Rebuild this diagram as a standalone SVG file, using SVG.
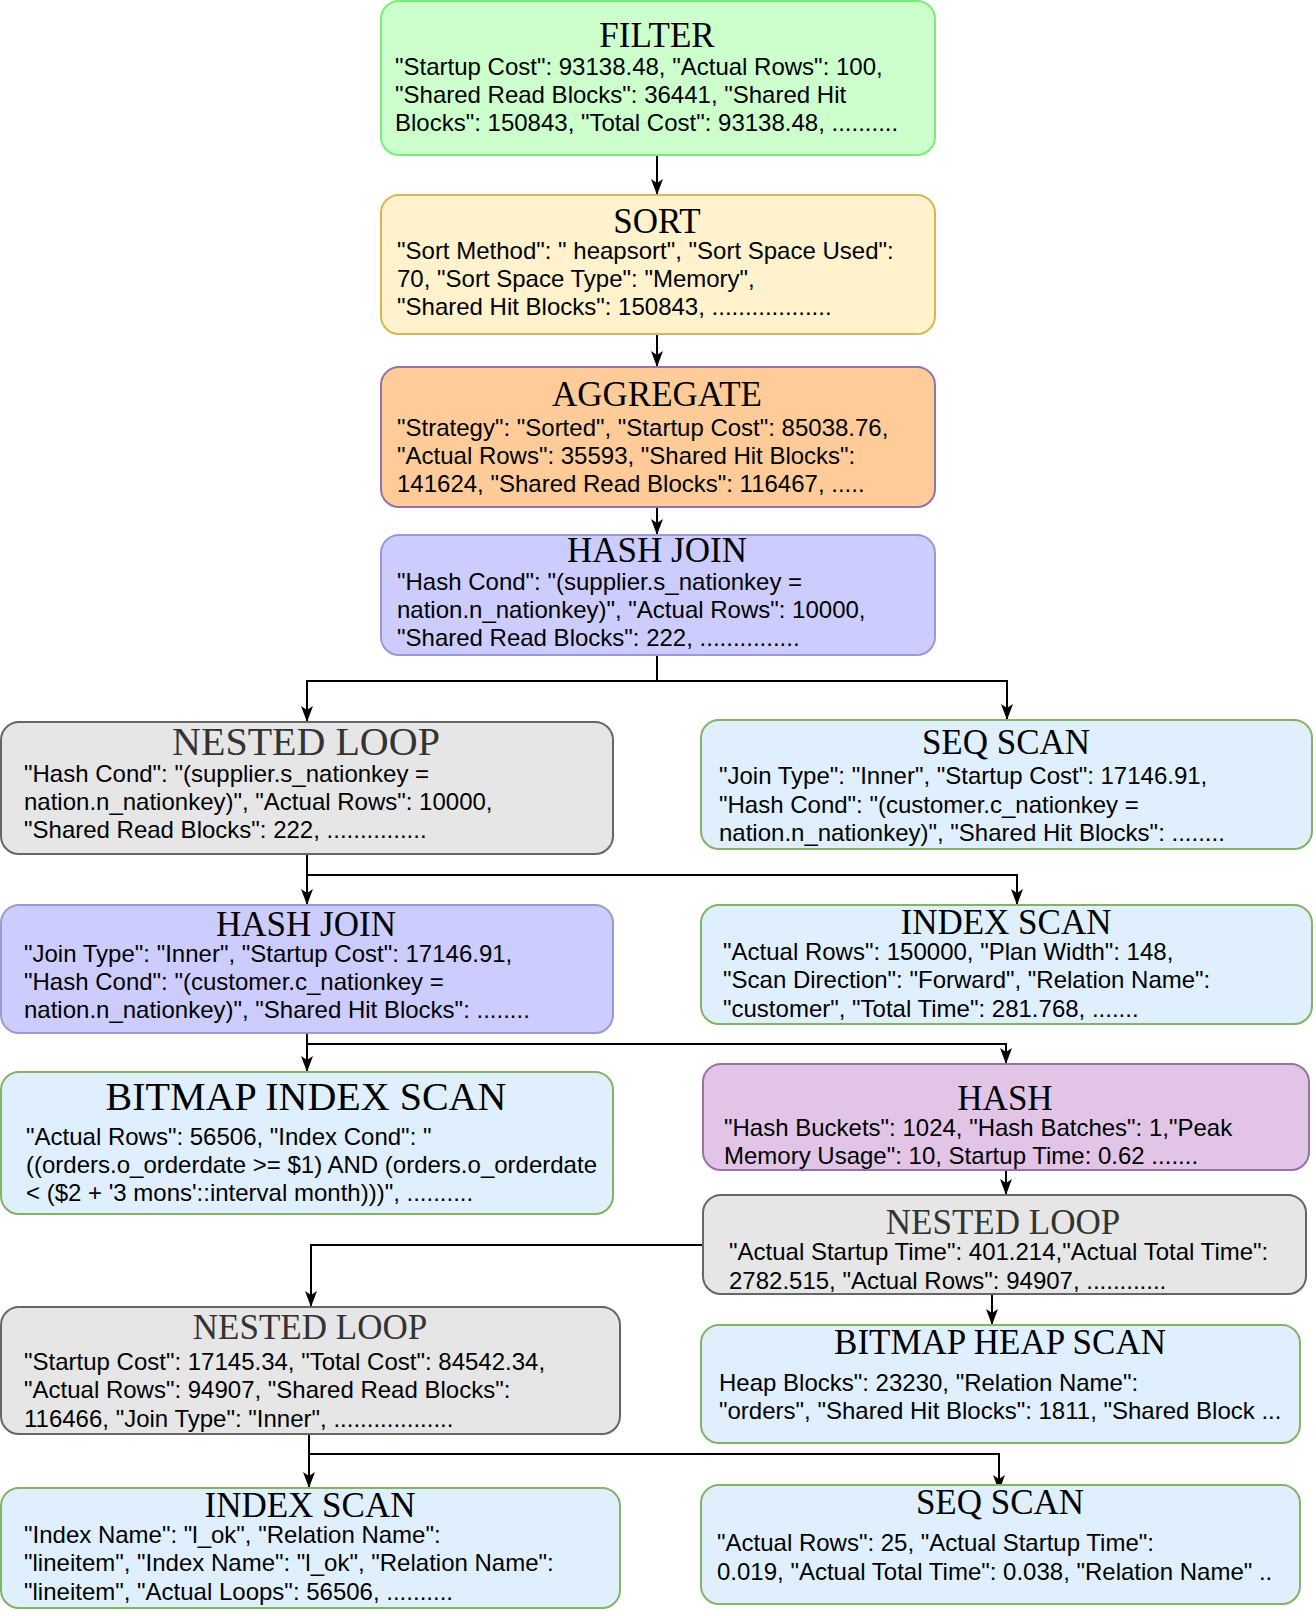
<svg xmlns="http://www.w3.org/2000/svg" width="1316" height="1616" viewBox="0 0 1316 1616">
<style>
.box{stroke-width:2}
.t{font-family:"Liberation Serif","Times New Roman",serif;font-size:35px;fill:#000;text-anchor:middle}
.tb{font-size:40px}
.tg{fill:#333}
.b{font-family:"Liberation Sans",Arial,Helvetica,sans-serif;font-size:24px;fill:#000}
.green{fill:#ccffcc;stroke:#77ee77}
.yellow{fill:#fff2cc;stroke:#d6b656}
.orange{fill:#ffcc99;stroke:#9673a6}
.blue{fill:#ccccff;stroke:#9a9ad0}
.gray{fill:#e6e6e6;stroke:#666666}
.scan{fill:#dfeffd;stroke:#82b366}
.pink{fill:#e1c4e6;stroke:#9673a6}
.c{fill:none;stroke:#000;stroke-width:2}
</style>
<defs>
<marker id="arr" viewBox="0 0 16 12" markerWidth="16" markerHeight="12" refX="16" refY="6" orient="auto" markerUnits="userSpaceOnUse">
<path d="M0,0 L16,6 L0,12 L4,6 z" fill="#000"/>
</marker>
</defs>
<g id="connectors">
<path class="c" d="M657,155 V195" marker-end="url(#arr)"/>
<path class="c" d="M657,334 V367" marker-end="url(#arr)"/>
<path class="c" d="M657,507 V535" marker-end="url(#arr)"/>
<path class="c" d="M657,655 V681 H307 V722" marker-end="url(#arr)"/>
<path class="c" d="M657,681 H1007 V720" marker-end="url(#arr)"/>
<path class="c" d="M307,854 V905" marker-end="url(#arr)"/>
<path class="c" d="M307,875 H1017 V905" marker-end="url(#arr)"/>
<path class="c" d="M307,1033 V1072" marker-end="url(#arr)"/>
<path class="c" d="M307,1044 H1006 V1064" marker-end="url(#arr)"/>
<path class="c" d="M1006,1170 V1195" marker-end="url(#arr)"/>
<path class="c" d="M703,1245 H311 V1307" marker-end="url(#arr)"/>
<path class="c" d="M992,1294 V1325" marker-end="url(#arr)"/>
<path class="c" d="M309,1434 V1488" marker-end="url(#arr)"/>
<path class="c" d="M309,1454 H999 V1491" marker-end="url(#arr)"/>
</g>
<g id="filter">
<rect class="box green" x="381" y="1" width="554" height="154" rx="18"/>
<text class="t" x="657" y="47">FILTER</text>
<text class="b" x="395" y="75">"Startup Cost": 93138.48, "Actual Rows": 100,</text>
<text class="b" x="395" y="103">"Shared Read Blocks": 36441, "Shared Hit</text>
<text class="b" x="395" y="131">Blocks": 150843, "Total Cost": 93138.48, ..........</text>
</g>
<g id="sort">
<rect class="box yellow" x="381" y="195" width="554" height="139" rx="18"/>
<text class="t" x="657" y="233">SORT</text>
<text class="b" x="397" y="259">"Sort Method": " heapsort", "Sort Space Used":</text>
<text class="b" x="397" y="287">70, "Sort Space Type": "Memory",</text>
<text class="b" x="397" y="315">"Shared Hit Blocks": 150843, ..................</text>
</g>
<g id="aggregate">
<rect class="box orange" x="381" y="367" width="554" height="140" rx="18"/>
<text class="t" x="657" y="406">AGGREGATE</text>
<text class="b" x="397" y="436">"Strategy": "Sorted", "Startup Cost": 85038.76,</text>
<text class="b" x="397" y="464">"Actual Rows": 35593, "Shared Hit Blocks":</text>
<text class="b" x="397" y="492">141624, "Shared Read Blocks": 116467, .....</text>
</g>
<g id="hashjoin1">
<rect class="box blue" x="381" y="535" width="554" height="120" rx="18"/>
<text class="t" x="657" y="562">HASH JOIN</text>
<text class="b" x="397" y="590">"Hash Cond": "(supplier.s_nationkey =</text>
<text class="b" x="397" y="618">nation.n_nationkey)", "Actual Rows": 10000,</text>
<text class="b" x="397" y="646">"Shared Read Blocks": 222, ...............</text>
</g>
<g id="nestedloop1">
<rect class="box gray" x="1" y="722" width="612" height="132" rx="18"/>
<text class="t tb tg" x="306" y="755">NESTED LOOP</text>
<text class="b" x="24" y="782">"Hash Cond": "(supplier.s_nationkey =</text>
<text class="b" x="24" y="810">nation.n_nationkey)", "Actual Rows": 10000,</text>
<text class="b" x="24" y="838">"Shared Read Blocks": 222, ...............</text>
</g>
<g id="seqscan1">
<rect class="box scan" x="701" y="720" width="611" height="129" rx="18"/>
<text class="t" x="1006" y="754">SEQ SCAN</text>
<text class="b" x="719" y="784">"Join Type": "Inner", "Startup Cost": 17146.91,</text>
<text class="b" x="719" y="813">"Hash Cond": "(customer.c_nationkey =</text>
<text class="b" x="719" y="841">nation.n_nationkey)", "Shared Hit Blocks": ........</text>
</g>
<g id="hashjoin2">
<rect class="box blue" x="1" y="905" width="612" height="128" rx="18"/>
<text class="t" x="306" y="936">HASH JOIN</text>
<text class="b" x="24" y="962">"Join Type": "Inner", "Startup Cost": 17146.91,</text>
<text class="b" x="24" y="990">"Hash Cond": "(customer.c_nationkey =</text>
<text class="b" x="24" y="1018">nation.n_nationkey)", "Shared Hit Blocks": ........</text>
</g>
<g id="indexscan1">
<rect class="box scan" x="701" y="905" width="611" height="119" rx="18"/>
<text class="t" x="1006" y="934">INDEX SCAN</text>
<text class="b" x="723" y="960">"Actual Rows": 150000, "Plan Width": 148,</text>
<text class="b" x="723" y="988">"Scan Direction": "Forward", "Relation Name":</text>
<text class="b" x="723" y="1017">"customer", "Total Time": 281.768, .......</text>
</g>
<g id="bitmapindexscan">
<rect class="box scan" x="1" y="1072" width="612" height="142" rx="18"/>
<text class="t tb" x="306" y="1110">BITMAP INDEX SCAN</text>
<text class="b" x="26" y="1145">"Actual Rows": 56506, "Index Cond": "</text>
<text class="b" x="26" y="1173">((orders.o_orderdate &gt;= $1) AND (orders.o_orderdate</text>
<text class="b" x="26" y="1201">&lt; ($2 + '3 mons'::interval month)))", ..........</text>
</g>
<g id="hash">
<rect class="box pink" x="703" y="1064" width="606" height="106" rx="18"/>
<text class="t" x="1005" y="1110">HASH</text>
<text class="b" x="724" y="1136">"Hash Buckets": 1024, "Hash Batches": 1,"Peak</text>
<text class="b" x="724" y="1164">Memory Usage": 10, Startup Time: 0.62 .......</text>
</g>
<g id="nestedloop2">
<rect class="box gray" x="703" y="1195" width="603" height="99" rx="18"/>
<text class="t tg" x="1003" y="1234">NESTED LOOP</text>
<text class="b" x="729" y="1260">"Actual Startup Time": 401.214,"Actual Total Time":</text>
<text class="b" x="729" y="1289">2782.515, "Actual Rows": 94907, ............</text>
</g>
<g id="nestedloop3">
<rect class="box gray" x="1" y="1307" width="619" height="127" rx="18"/>
<text class="t tg" x="310" y="1339">NESTED LOOP</text>
<text class="b" x="24" y="1370">"Startup Cost": 17145.34, "Total Cost": 84542.34,</text>
<text class="b" x="24" y="1398">"Actual Rows": 94907, "Shared Read Blocks":</text>
<text class="b" x="24" y="1427">116466, "Join Type": "Inner", ..................</text>
</g>
<g id="bitmapheapscan">
<rect class="box scan" x="701" y="1325" width="599" height="118" rx="18"/>
<text class="t" x="1000" y="1354">BITMAP HEAP SCAN</text>
<text class="b" x="719" y="1391">Heap Blocks": 23230, "Relation Name":</text>
<text class="b" x="719" y="1419">"orders", "Shared Hit Blocks": 1811, "Shared Block ...</text>
</g>
<g id="indexscan2">
<rect class="box scan" x="1" y="1488" width="619" height="120" rx="18"/>
<text class="t" x="310" y="1517">INDEX SCAN</text>
<text class="b" x="24" y="1543">"Index Name": "l_ok", "Relation Name":</text>
<text class="b" x="24" y="1571">"lineitem", "Index Name": "l_ok", "Relation Name":</text>
<text class="b" x="24" y="1600">"lineitem", "Actual Loops": 56506, ..........</text>
</g>
<g id="seqscan2">
<rect class="box scan" x="701" y="1485" width="599" height="119" rx="18"/>
<text class="t" x="1000" y="1514">SEQ SCAN</text>
<text class="b" x="717" y="1551">"Actual Rows": 25, "Actual Startup Time":</text>
<text class="b" x="717" y="1580">0.019, "Actual Total Time": 0.038, "Relation Name" ..</text>
</g>
</svg>
